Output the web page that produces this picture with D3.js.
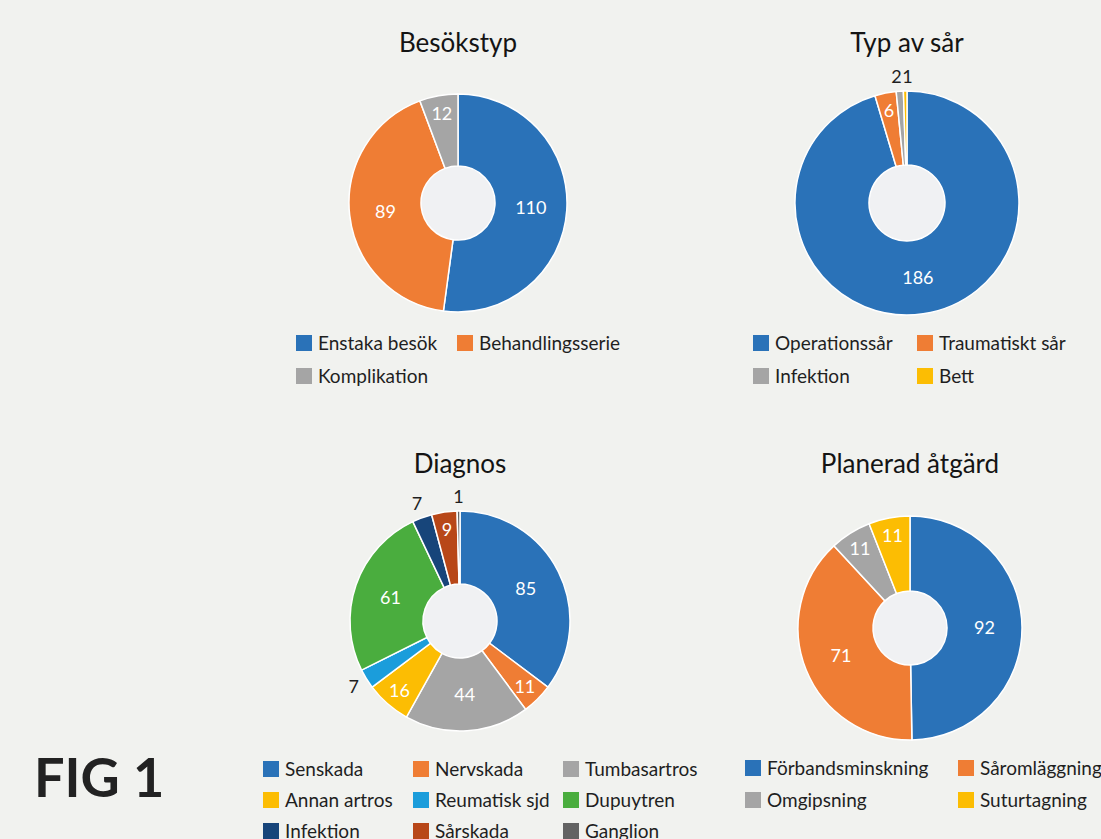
<!DOCTYPE html>
<html>
<head>
<meta charset="utf-8">
<script src="https://cdn.jsdelivr.net/npm/d3@7"></script>
<style>
  body { margin: 0; background: #f1f2ef; }
  svg { display: block; }
</style>
</head>
<body>
<div id="chart"></div>
<script>
const width = 1101;
const height = 839;

// Besökstyp
const visitLabels = ["Enstaka besök", "Behandlingsserie", "Komplikation"];
const visitValues = [110, 89, 12];

// Typ av sår
const woundLabels = ["Operationssår", "Traumatiskt sår", "Infektion", "Bett"];
const woundValues = [186, 6, 2, 1];

// Diagnos
const diagLabels = ["Senskada", "Nervskada", "Tumbasartros", "Annan artros", "Reumatisk sjd",
  "Dupuytren", "Infektion", "Sårskada", "Ganglion"];
const diagValues = [85, 11, 44, 16, 7, 61, 7, 9, 1];

// Planerad åtgärd
const actionLabels = ["Förbandsminskning", "Såromläggning", "Omgipsning", "Suturtagning"];
const actionValues = [92, 71, 11, 11];

const palette = ["#2a72b8", "#ef7d34", "#a5a5a5", "#fcbd03", "#1b9ddb", "#4aad3e", "#17457a", "#b84718", "#636363"];

const font = "Lato, 'Open Sans', sans-serif";
const textColor = "#1f1f1f";

const svg = d3.select("#chart")
    .append("svg")
    .attr("width", width)
    .attr("height", height)
    .attr("viewBox", [0, 0, width, height])
    .style("background", "#f1f2ef");

const drawDonut = (cfg) => {
    const { title, labels, values, cx, cy, outer, inner, titleY, legendX, legendY, rowGap } = cfg;
    const g = svg.append("g").attr("transform", `translate(${cx},${cy})`);

    const color = d3.scaleOrdinal(labels, palette);

    const pie = d3.pie().sort(null).value(d => d.value);
    const arcs = pie(labels.map((l, i) => ({ label: l, value: values[i] })));
    const arc = d3.arc().innerRadius(inner).outerRadius(outer);

    // hole
    g.append("circle")
        .attr("r", inner)
        .attr("fill", "#f0f1f3");

    g.selectAll("path")
        .data(arcs)
        .join("path")
        .attr("d", arc)
        .attr("fill", d => color(d.data.label))
        .attr("stroke", "#ffffff")
        .attr("stroke-width", 1.5);

    // labels: tiny slices go outside, thin ones near the rim
    arcs.forEach(d => {
        const frac = (d.endAngle - d.startAngle) / (2 * Math.PI);
        let r = (inner + outer) / 2;
        if (frac < 0.03) r = outer + 15;
        else if (frac < 0.07) r = outer - 18;
        const a = (d.startAngle + d.endAngle) / 2;
        d.lx = r * Math.sin(a);
        d.ly = -r * Math.cos(a);
        d.outside = frac < 0.03;
    });
    // push apart outside labels that collide
    const outs = arcs.filter(d => d.outside);
    for (let i = 1; i < outs.length; i++) {
        const p = outs[i - 1], c = outs[i];
        if (Math.abs(p.ly - c.ly) < 14 && Math.abs(p.lx - c.lx) < 11) {
            const shift = (11 - Math.abs(p.lx - c.lx)) / 2;
            p.lx -= shift;
            c.lx += shift;
        }
    }

    g.selectAll("text.val")
        .data(arcs)
        .join("text")
        .attr("class", "val")
        .attr("x", d => d.lx)
        .attr("y", d => d.ly)
        .attr("dy", "0.36em")
        .attr("text-anchor", "middle")
        .attr("font-family", font)
        .attr("font-size", 18)
        .attr("fill", d => d.outside ? textColor : "#ffffff")
        .text(d => d.data.value);

    svg.append("text")
        .attr("x", cx)
        .attr("y", titleY)
        .attr("text-anchor", "middle")
        .attr("font-family", font)
        .attr("font-size", 26)
        .attr("fill", "#141414")
        .text(title);

    // legend, laid out in columns
    const legend = svg.append("g");
    labels.forEach((l, i) => {
        const col = i % legendX.length;
        const row = Math.floor(i / legendX.length);
        const item = legend.append("g")
            .attr("transform", `translate(${legendX[col]},${legendY + row * rowGap})`);
        item.append("rect")
            .attr("y", -8)
            .attr("width", 16)
            .attr("height", 16)
            .attr("fill", color(l));
        item.append("text")
            .attr("x", 22)
            .attr("dy", "0.35em")
            .attr("font-family", font)
            .attr("font-size", 19)
            .attr("fill", textColor)
            .text(l);
    });
};

drawDonut({
    title: "Besökstyp", labels: visitLabels, values: visitValues,
    cx: 458, cy: 203, outer: 109, inner: 37, titleY: 52,
    legendX: [296, 457], legendY: 343, rowGap: 33
});

drawDonut({
    title: "Typ av sår", labels: woundLabels, values: woundValues,
    cx: 907, cy: 203, outer: 112, inner: 38, titleY: 52,
    legendX: [753, 917], legendY: 343, rowGap: 33
});

drawDonut({
    title: "Diagnos", labels: diagLabels, values: diagValues,
    cx: 460, cy: 621, outer: 110, inner: 37, titleY: 473,
    legendX: [263, 413, 563], legendY: 769, rowGap: 31
});

drawDonut({
    title: "Planerad åtgärd", labels: actionLabels, values: actionValues,
    cx: 910, cy: 628, outer: 112, inner: 37, titleY: 473,
    legendX: [745, 958], legendY: 768, rowGap: 32
});

svg.append("text")
    .attr("x", 34)
    .attr("y", 797)
    .attr("font-family", font)
    .attr("font-size", 54)
    .attr("font-weight", 700)
    .attr("fill", "#222222")
    .text("FIG 1");
</script>
</body>
</html>
